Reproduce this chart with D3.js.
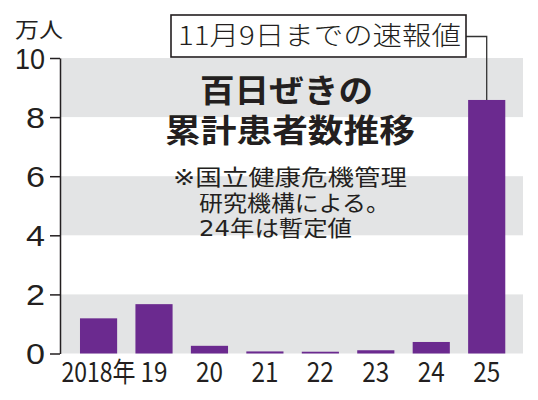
<!DOCTYPE html>
<html><head><meta charset="utf-8">
<script src="https://cdn.jsdelivr.net/npm/d3@7"></script>
<style>
html,body{margin:0;padding:0;background:#fff;}
svg{display:block;font-family:"Noto Sans CJK JP","Noto Sans",sans-serif;}
.tight{font-family:"DejaVu Sans","Noto Sans CJK JP",sans-serif;}
</style></head>
<body><svg id="c" width="538" height="400"></svg>
<script>
const categories = ["2018年","19","20","21","22","23","24","25"];
const values = [1.19, 1.67, 0.26, 0.07, 0.06, 0.11, 0.39, 8.58];
const yTicks = [0,2,4,6,8,10];
const bandRanges = [[0,2],[4,6],[8,10]];
const unitLabel = "万人";
const titleLines = ["百日ぜきの","累計患者数推移"];
const noteLines = ["※国立健康危機管理","研究機構による。","24年は暫定値"];
const calloutText = "11月9日までの速報値";

const svg = d3.select("#c");
const ink = "#231f20";
const x = d3.scaleBand().domain(categories).range([60,523]).paddingInner(0.33).paddingOuter(0.34).align(0.53);
const y = d3.scaleLinear().domain([0,10]).range([353.5,58]);

// bands
svg.append("g").selectAll("rect").data(bandRanges).join("rect")
  .attr("x",60).attr("width",523-60)
  .attr("y",d=>y(d[1])).attr("height",d=>y(d[0])-y(d[1]))
  .attr("fill","#e3e4e5");

// bars
svg.append("g").selectAll("rect").data(values).join("rect")
  .attr("x",(d,i)=>x(categories[i])).attr("width",x.bandwidth())
  .attr("y",d=>y(d)).attr("height",d=>y(0)-y(d))
  .attr("fill","#6b2a8f");

// y axis
const ya = svg.append("g").attr("transform","translate(60,0)")
  .call(d3.axisLeft(y).tickValues(yTicks).tickSize(10).tickSizeOuter(0).tickPadding(5));
ya.select(".domain").attr("stroke",ink).attr("stroke-width",1.5);
ya.selectAll(".tick line").attr("stroke",ink).attr("stroke-width",1.5);
ya.selectAll(".tick text").attr("font-size",29).attr("fill",ink)
  .attr("font-family","'Liberation Sans'")
  .attr("dy","0.36em")
  .each(function(d){ const s=String(d); d3.select(this).attr("textLength", s.length===1?19:30).attr("lengthAdjust","spacingAndGlyphs"); });

// x axis labels
svg.append("g").selectAll("text").data(categories).join("text")
  .attr("x",d=>x(d)+x.bandwidth()/2).attr("y",382)
  .attr("text-anchor","middle").attr("font-size",25).attr("fill",ink)
  .attr("textLength",d=>d.length>2?74:27).attr("lengthAdjust","spacingAndGlyphs")
  .attr("transform",function(d){ const cx=x(d)+x.bandwidth()/2; return `translate(${cx},382) scale(1,1.1) translate(${-cx},-382)`; })
  .text(d=>d);

// unit
svg.append("text").attr("class","tight").attr("x",15).attr("y",37).attr("font-size",21).attr("fill",ink)
  .attr("textLength",48).attr("lengthAdjust","spacingAndGlyphs").text(unitLabel);

// title (one text element, tspans per line)
const tl = [[200,102,173],[165,142,250]];
svg.append("text").attr("class","tight").attr("font-size",32).attr("font-weight",700).attr("fill",ink)
  .selectAll("tspan").data(titleLines).join("tspan")
  .attr("x",(d,i)=>tl[i][0]).attr("y",(d,i)=>tl[i][1])
  .attr("textLength",(d,i)=>tl[i][2]).attr("lengthAdjust","spacingAndGlyphs")
  .text(d=>d);

// note
const nl = [[173,185,234],[199,210.5,191],[199,236,153]];
svg.append("text").attr("class","tight").attr("font-size",22).attr("fill",ink)
  .selectAll("tspan").data(noteLines).join("tspan")
  .attr("x",(d,i)=>nl[i][0]).attr("y",(d,i)=>nl[i][1])
  .attr("textLength",(d,i)=>nl[i][2]).attr("lengthAdjust","spacingAndGlyphs")
  .text(d=>d);

// callout
const last = categories[categories.length-1];
const cx = x(last)+x.bandwidth()/2;
svg.append("path")
  .attr("d",`M466,36.5H${cx}V${y(values[values.length-1])}`)
  .attr("fill","none").attr("stroke","#333").attr("stroke-width",1.3);
svg.append("rect").attr("x",171).attr("y",15).attr("width",295).attr("height",42)
  .attr("fill","#fff").attr("stroke",ink).attr("stroke-width",1.6);
svg.append("text").attr("x",178).attr("y",45).attr("font-size",26).attr("fill",ink)
  .attr("font-weight",300)
  .attr("textLength",283).attr("lengthAdjust","spacingAndGlyphs").text(calloutText);
</script></body></html>
